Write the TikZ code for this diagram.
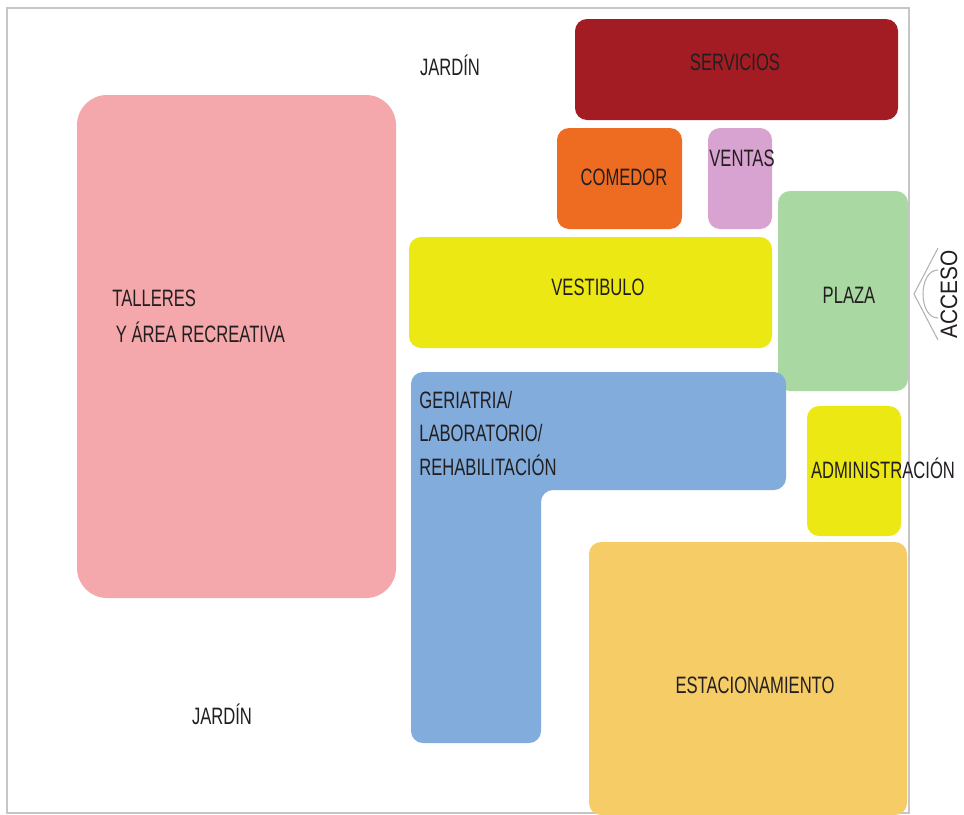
\documentclass[tikz,border=0pt]{standalone}
\usepackage{fontspec}
\newfontfamily\planofont[FakeStretch=0.7]{Liberation Sans}
\newfontfamily\accesofont[FakeStretch=0.88]{Liberation Sans}
\usetikzlibrary{positioning}
\definecolor{cServicios}{RGB}{163,28,36}
\definecolor{cComedor}{RGB}{238,107,34}
\definecolor{cVentas}{RGB}{216,163,208}
\definecolor{cAmarillo}{RGB}{236,232,20}
\definecolor{cPlaza}{RGB}{169,216,162}
\definecolor{cGeriatria}{RGB}{130,172,220}
\definecolor{cEstac}{RGB}{245,204,102}
\definecolor{cTalleres}{RGB}{244,168,172}
\definecolor{cTexto}{RGB}{35,31,32}
\tikzset{zona/.style={fill=#1, rounded corners=0.24cm}}
\tikzset{rotulo/.style={font=\planofont\fontsize{13.5}{19}\selectfont, text=cTexto, inner sep=0pt}}

\begin{document}
\begin{tikzpicture}[x=0.02cm, y=-0.02cm]
		\useasboundingbox (0,0) rectangle (964,815);
		\fill[white] (0,0) rectangle (964,815);
		\draw[gray!45, line width=1pt] (7,8) rectangle (909,813);
		
		% zonas
		\fill[zona=cTalleres, rounded corners=0.6cm] (77,95) rectangle (396,598);
		\fill[zona=cServicios] (575,19) rectangle (898,120);
		\fill[zona=cComedor] (557,128) rectangle (682,229);
		\fill[zona=cVentas] (708,128) rectangle (772,229);
		\fill[zona=cAmarillo] (409,237) rectangle (772,348);
		\fill[zona=cPlaza] (778,191) rectangle (908,391);
		\fill[zona=cGeriatria] (411,372) -- (786,372) -- (786,490) -- (541,490) -- (541,743) -- (411,743) -- cycle;
		\fill[zona=cAmarillo] (807,406) rectangle (901,536);
		\fill[zona=cEstac] (589,542) rectangle (907,815);
		
		% rotulos
		\node[rotulo] (jardin-n) at (450,65) {JARDÍN};
		\node[rotulo] (servicios) at (735,62) {SERVICIOS};
		\node[rotulo] (comedor) at (624,177) {COMEDOR};
		\node[rotulo] (ventas) at (742,158) {VENTAS};
		\node[rotulo] (vestibulo) at (598,287) {VESTIBULO};
		\node[rotulo] (plaza) at (849,295) {PLAZA};
		\node[rotulo, anchor=north west, align=left] (geriatria) at (419,391) {GERIATRIA/\\LABORATORIO/\\REHABILITACIÓN};
		\node[rotulo, anchor=north west, align=left, font=\planofont\fontsize{13.5}{20.4}\selectfont] (talleres) at (112,290) {TALLERES\\\hspace{2pt}Y ÁREA RECREATIVA};
		\node[rotulo] (admin) at (883,468) {ADMINISTRACIÓN};
		\node[rotulo] (estac) at (755,685) {ESTACIONAMIENTO};
		\node[rotulo] (jardin-s) at (222,714) {JARDÍN};
		
		% acceso
		\node[rotulo, font=\accesofont\fontsize{13.5}{19}\selectfont, rotate=90] (acceso) at (949,294) {ACCESO};
		\draw[gray!60, line width=0.6pt] (938,248) -- (914,294) -- (938,340);
		\draw[gray!60, line width=0.6pt] (938,270) .. controls (918,270) and (918,318) .. (938,318);
\end{tikzpicture}
\end{document}
